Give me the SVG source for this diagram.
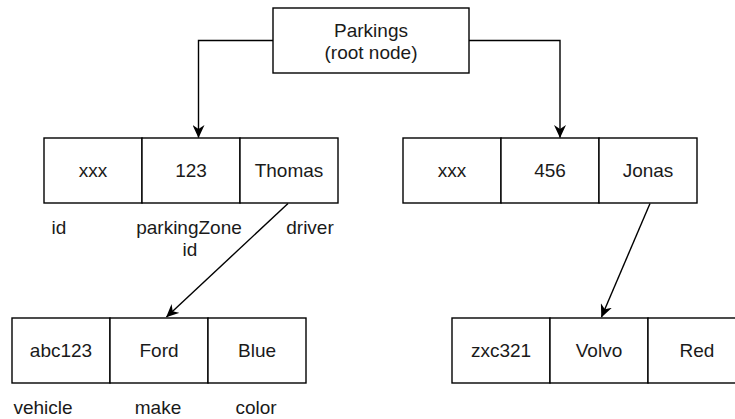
<svg xmlns="http://www.w3.org/2000/svg" width="735" height="419" viewBox="0 0 735 419">
  <style>
    .box { fill: #ffffff; stroke: #000000; stroke-width: 1.4; }
    .t { font-family: "Liberation Sans", Arial, sans-serif; font-size: 19px; fill: #1a1a1a; text-anchor: middle; }
    .edge { fill: none; stroke: #000000; stroke-width: 1.4; marker-end: url(#arrow); }
  </style>
  <defs>
    <!-- classic block arrowhead with a shallow notch -->
    <marker id="arrow" viewBox="0 0 13 12" refX="12.5" refY="6" markerWidth="13" markerHeight="12" markerUnits="userSpaceOnUse" orient="auto">
      <path d="M0,0 L13,6 L0,12 L4,6 Z" fill="#000000"/>
    </marker>
  </defs>
  <rect width="735" height="419" fill="#ffffff"/>

  <g id="connectors">
    <path class="edge" d="M273,40.5 H198.5 V137.5"/>
    <path class="edge" d="M469,40.5 H560 V137.5"/>
    <path class="edge" d="M288,203.5 L166.5,317"/>
    <path class="edge" d="M650,203.5 L601.5,317"/>
  </g>

  <g id="root">
    <rect class="box" x="273" y="8" width="196" height="65"/>
    <text class="t" x="371" y="36.5">Parkings</text>
    <text class="t" x="371" y="59">(root node)</text>
  </g>

  <g id="parking1">
    <rect class="box" x="44" y="138" width="98" height="65"/>
    <rect class="box" x="142" y="138" width="98" height="65"/>
    <rect class="box" x="240" y="138" width="98" height="65"/>
    <text class="t" x="93" y="177">xxx</text>
    <text class="t" x="191" y="177">123</text>
    <text class="t" x="289" y="177">Thomas</text>
  </g>

  <g id="parking1-labels">
    <text class="t" x="59" y="234">id</text>
    <text class="t" x="189" y="234">parkingZone</text>
    <text class="t" x="190" y="256">id</text>
    <text class="t" x="310" y="234">driver</text>
  </g>

  <g id="parking2">
    <rect class="box" x="403" y="138" width="98" height="65"/>
    <rect class="box" x="501" y="138" width="98" height="65"/>
    <rect class="box" x="599" y="138" width="98" height="65"/>
    <text class="t" x="452" y="177">xxx</text>
    <text class="t" x="550" y="177">456</text>
    <text class="t" x="648" y="177">Jonas</text>
  </g>

  <g id="vehicle1">
    <rect class="box" x="12" y="318" width="98" height="65"/>
    <rect class="box" x="110" y="318" width="98" height="65"/>
    <rect class="box" x="208" y="318" width="98" height="65"/>
    <text class="t" x="61" y="357">abc123</text>
    <text class="t" x="159" y="357">Ford</text>
    <text class="t" x="257" y="357">Blue</text>
  </g>

  <g id="vehicle1-labels">
    <text class="t" x="43" y="414">vehicle</text>
    <text class="t" x="158" y="414">make</text>
    <text class="t" x="256" y="414">color</text>
  </g>

  <g id="vehicle2">
    <rect class="box" x="452" y="318" width="98" height="65"/>
    <rect class="box" x="550" y="318" width="98" height="65"/>
    <rect class="box" x="648" y="318" width="98" height="65"/>
    <text class="t" x="501" y="357">zxc321</text>
    <text class="t" x="599" y="357">Volvo</text>
    <text class="t" x="697" y="357">Red</text>
  </g>
</svg>
